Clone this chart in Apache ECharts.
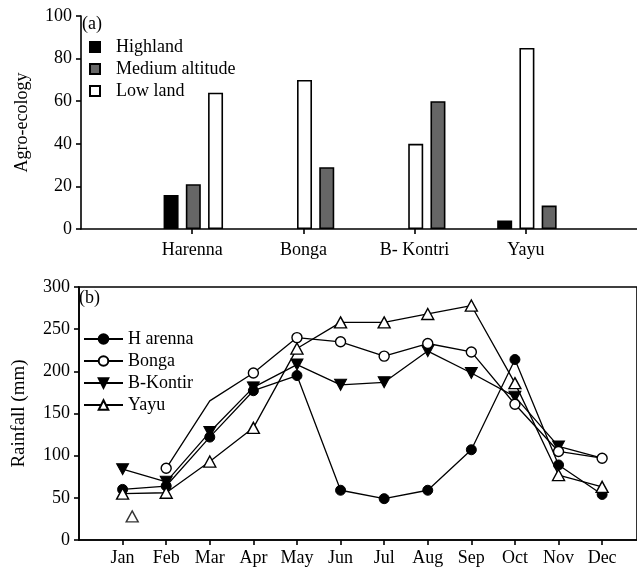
<!DOCTYPE html>
<html><head><meta charset="utf-8">
<script src="https://cdn.jsdelivr.net/npm/echarts@6/dist/echarts.min.js"></script>
<style>html,body{margin:0;padding:0;background:#fff}#c{width:637px;height:569px}</style>
</head><body><div id="c"></div>
<script>
// ---- Panel (a) data ----
const sites = ['Harenna', 'Bonga', 'B- Kontri', 'Yayu'];
const landNames = ['Highland', 'Medium altitude', 'Low land'];
const highland = [16, null, null, 4];
const medium = [21, 29, 60, 11];
const lowland = [64, 70, 40, 85];
const yTicksA = [0, 20, 40, 60, 80, 100];

// ---- Panel (b) data ----
const months = ['Jan', 'Feb', 'Mar', 'Apr', 'May', 'Jun', 'Jul', 'Aug', 'Sep', 'Oct', 'Nov', 'Dec'];
const harenna = [60, 64, 122, 177, 195, 59, 49, 59, 107, 214, 89, 54];
const bonga = [null, 85, 165, 198, 240, 235, 218, 233, 223, 161, 105, 97];
const bKontir = [84, 69, 128, 181, 208, 184, 187, 224, 198, 170, 111, 97];
const yayu = [55, 56, 93, 133, 227, 258, 258, 268, 278, 186, 77, 63];
const yayuExtra = [[1.22, 28]];
const lineNames = ['H arenna', 'Bonga', 'B-Kontir', 'Yayu'];
const yTicksB = [0, 50, 100, 150, 200, 250, 300];

// layout: slot order of bars within each site group (0=left,1=centre,2=right)
const slotFor = (site, land) => {
  if (site === 0) return land;            // H, M, L
  return [0, 2, 1][land];                  // H, L, M
};
const landSeriesData = [highland, medium, lowland];
const barData = (land) => landSeriesData[land]
  .map((v, i) => v == null ? null : [i + 1 + (slotFor(i, land) - 1) * 0.2 + 0.01, v])
  .filter(d => d);

const lineData = (arr, hidden) => arr.map((v, i) => {
  const d = { value: [i + 1, v] };
  if (hidden && hidden.includes(i)) d.symbol = 'none';
  return d;
}).filter(d => d.value[1] != null);

const FONT = 'Liberation Serif';
const txt = { fontFamily: FONT, fontSize: 18, color: '#000' };
const axLine = { show: true, lineStyle: { color: '#000', width: 1.6 } };
const axTick = { show: true, length: 5, lineStyle: { color: '#000', width: 1.6 } };
const barColors = ['#000000', '#666666', '#ffffff'];

const chart = echarts.init(document.getElementById('c'), null, { renderer: 'canvas' });
chart.setOption({
  animation: false,
  backgroundColor: '#fff',
  title: [
    { text: '(a)', left: 82, top: 15, padding: 0, textStyle: { ...txt, fontWeight: 'normal' } },
    { text: '(b)', left: 79, top: 289, padding: 0, textStyle: { ...txt, fontWeight: 'normal' } }
  ],
  grid: [
    { left: 81, right: -4, top: 16, bottom: 340, show: false },
    { left: 79, right: -1, top: 287, bottom: 29, show: true, borderColor: '#000', borderWidth: 1.6, backgroundColor: 'transparent' }
  ],
  legend: [
    {
      orient: 'vertical', left: 89, top: 38, padding: 0, itemWidth: 10, itemHeight: 10, itemGap: 4,
      icon: 'rect', textStyle: { ...txt, padding: [0, 0, 0, 11] }, data: landNames
    },
    {
      orient: 'vertical', left: 83, top: 330, padding: 0, itemWidth: 39, itemHeight: 12, itemGap: 4,
      textStyle: txt, data: lineNames
    }
  ],
  xAxis: [
    {
      gridIndex: 0, type: 'value', min: 0, max: 5, interval: 1, splitLine: { show: false },
      axisLine: axLine,
      axisTick: { ...axTick, customValues: [1, 2, 3, 4] },
      axisLabel: { ...txt, margin: 12, customValues: [1, 2, 3, 4], formatter: v => sites[v - 1] || '' }
    },
    {
      gridIndex: 1, type: 'value', min: 0, max: 12.8, interval: 1, splitLine: { show: false },
      axisLine: axLine,
      axisTick: { ...axTick, customValues: months.map((m, i) => i + 1) },
      axisLabel: { ...txt, margin: 9, customValues: months.map((m, i) => i + 1), formatter: v => months[v - 1] || '' }
    }
  ],
  yAxis: [
    {
      gridIndex: 0, type: 'value', min: 0, max: 100, interval: 20, splitLine: { show: false },
      name: 'Agro-ecology', nameLocation: 'middle', nameGap: 50, nameRotate: 90,
      nameTextStyle: txt,
      axisLine: axLine, axisTick: axTick,
      axisLabel: { ...txt, margin: 9, customValues: yTicksA }
    },
    {
      gridIndex: 1, type: 'value', min: 0, max: 300, interval: 50, splitLine: { show: false },
      name: 'Rainfall (mm)', nameLocation: 'middle', nameGap: 50, nameRotate: 90,
      nameTextStyle: { ...txt, fontSize: 19 },
      axisLine: axLine, axisTick: axTick,
      axisLabel: { ...txt, margin: 9, customValues: yTicksB }
    }
  ],
  series: [
    ...landNames.map((name, k) => ({
      name, type: 'bar', xAxisIndex: 0, yAxisIndex: 0, barWidth: 15, barGap: '-100%',
      itemStyle: { color: barColors[k], borderColor: '#000', borderWidth: 1.6 },
      data: barData(k)
    })),
    {
      name: 'H arenna', type: 'line', xAxisIndex: 1, yAxisIndex: 1,
      symbol: 'circle', symbolSize: 10,
      lineStyle: { color: '#000', width: 1.3 },
      itemStyle: { color: '#000', borderColor: '#000', borderWidth: 1 },
      data: lineData(harenna)
    },
    {
      name: 'B-Kontir', type: 'line', xAxisIndex: 1, yAxisIndex: 1,
      symbol: 'triangle', symbolSize: [12, 11], symbolRotate: 180,
      lineStyle: { color: '#000', width: 1.3 },
      itemStyle: { color: '#000', borderColor: '#000', borderWidth: 1 },
      data: lineData(bKontir, [11])
    },
    {
      name: 'Bonga', type: 'line', xAxisIndex: 1, yAxisIndex: 1,
      symbol: 'circle', symbolSize: 10,
      lineStyle: { color: '#000', width: 1.3 },
      itemStyle: { color: '#fff', borderColor: '#000', borderWidth: 1.4 },
      data: lineData(bonga, [2])
    },
    {
      name: 'Yayu', type: 'line', xAxisIndex: 1, yAxisIndex: 1,
      symbol: 'triangle', symbolSize: [12, 11],
      lineStyle: { color: '#000', width: 1.3 },
      itemStyle: { color: '#fff', borderColor: '#000', borderWidth: 1.4 },
      data: lineData(yayu)
    },
    {
      name: 'Yayu extra', type: 'scatter', xAxisIndex: 1, yAxisIndex: 1,
      symbol: 'triangle', symbolSize: [12, 11],
      itemStyle: { color: '#fff', borderColor: '#000', borderWidth: 1.4 },
      data: yayuExtra
    }
  ]
});
</script>
</body></html>
